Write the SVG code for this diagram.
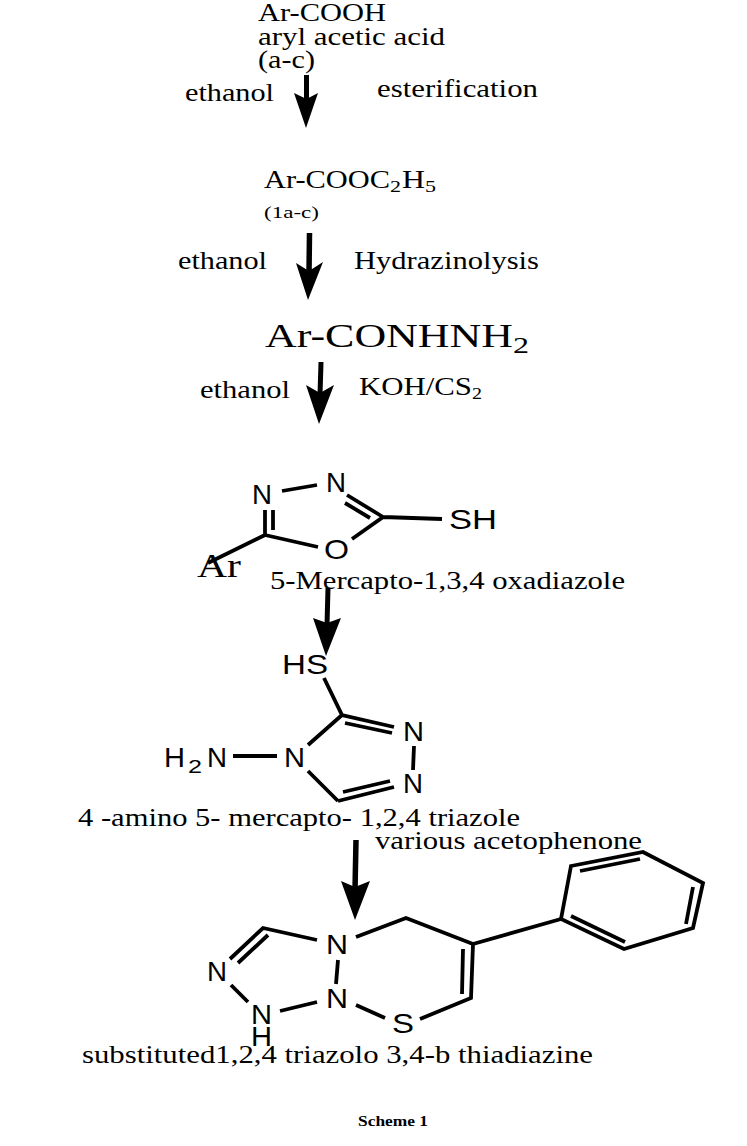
<svg xmlns="http://www.w3.org/2000/svg" width="747" height="1146" viewBox="0 0 747 1146">
<style>
.t{font-family:"Liberation Serif","Times New Roman",serif;fill:#000;font-size:25px}
.a{font-family:"Liberation Sans",Arial,sans-serif;fill:#000;font-size:28px}
.b{stroke:#000;stroke-width:3.800;fill:none;stroke-linecap:butt;stroke-linejoin:miter}
.s{stroke:#000;fill:none}
.h{fill:#000;stroke:none}
</style>
<rect width="747" height="1146" fill="#fff"/>
<g id="connectors">
<path class="s" stroke-width="5" d="M306.500 75L306.500 102"/><path class="h" d="M294 93L306.500 99L318 93L306 128Z"/>
<path class="s" stroke-width="5.500" d="M309.500 233L309 274"/><path class="h" d="M296 263L309 271L323 262L308 300Z"/>
<path class="s" stroke-width="5" d="M321 362L320 395"/><path class="h" d="M306 385L320 393L334 385L319 424Z"/>
<path class="s" stroke-width="5" d="M328 588L327 625"/><path class="h" d="M313 618L327 623L341 618L326 656Z"/>
<path class="s" stroke-width="5.500" d="M356 840L355 890"/><path class="h" d="M341 881L355 887L370 881L355 920Z"/>
</g>
<g id="acid">
<text class="t" x="258" y="21" textLength="128" lengthAdjust="spacingAndGlyphs">Ar-COOH</text>
<text class="t" x="258" y="45" textLength="187" lengthAdjust="spacingAndGlyphs">aryl acetic acid</text>
<text class="t" x="258" y="68" textLength="57" lengthAdjust="spacingAndGlyphs">(a-c)</text>
</g>
<g id="step1-labels">
<text class="t" x="185" y="101" textLength="89" lengthAdjust="spacingAndGlyphs">ethanol</text>
<text class="t" x="377" y="97" textLength="161" lengthAdjust="spacingAndGlyphs">esterification</text>
</g>
<g id="ester">
<text class="t" x="264" y="188" textLength="126" lengthAdjust="spacingAndGlyphs">Ar-COOC</text>
<text class="t" x="390" y="192" style="font-size:16px" textLength="11" lengthAdjust="spacingAndGlyphs">2</text>
<text class="t" x="402" y="188" textLength="23" lengthAdjust="spacingAndGlyphs">H</text>
<text class="t" x="425" y="192" style="font-size:16px" textLength="11" lengthAdjust="spacingAndGlyphs">5</text>
<text class="t" x="264" y="218" style="font-size:16px" textLength="55" lengthAdjust="spacingAndGlyphs">(1a-c)</text>
</g>
<g id="step2-labels">
<text class="t" x="178" y="269" textLength="89" lengthAdjust="spacingAndGlyphs">ethanol</text>
<text class="t" x="354" y="269" textLength="185" lengthAdjust="spacingAndGlyphs">Hydrazinolysis</text>
</g>
<g id="hydrazide">
<text class="t" x="265" y="347" style="font-size:34px" textLength="248" lengthAdjust="spacingAndGlyphs">Ar-CONHNH</text>
<text class="t" x="513" y="353" style="font-size:23px" textLength="16" lengthAdjust="spacingAndGlyphs">2</text>
</g>
<g id="step3-labels">
<text class="t" x="200" y="398" textLength="90" lengthAdjust="spacingAndGlyphs">ethanol</text>
<text class="t" x="359" y="395" textLength="113" lengthAdjust="spacingAndGlyphs">KOH/CS</text>
<text class="t" x="472" y="399" style="font-size:16px" textLength="10" lengthAdjust="spacingAndGlyphs">2</text>
</g>
<g id="oxadiazole">
<path class="b" d="M282 491L317 485M265 535L265 510M273 530L273 510M265 535L318 547M352 539L383 517L347 495M345 503L370 518M383 517L442 519M265 535L208 563"/>
<text class="a" x="252" y="504" textLength="20" lengthAdjust="spacingAndGlyphs">N</text>
<text class="a" x="326" y="492" textLength="20" lengthAdjust="spacingAndGlyphs">N</text>
<text class="a" x="324" y="559" textLength="25" lengthAdjust="spacingAndGlyphs">O</text>
<text class="a" x="449" y="529" textLength="48" lengthAdjust="spacingAndGlyphs">SH</text>
<text class="t" x="197" y="577" style="font-size:34px" textLength="44" lengthAdjust="spacingAndGlyphs">Ar</text>
<text class="t" x="270" y="589" textLength="355" lengthAdjust="spacingAndGlyphs">5-Mercapto-1,3,4 oxadiazole</text>
</g>
<g id="triazole">
<path class="b" d="M324 678L342 715L394 727M345 723L392 733M414 746L413 770M338 801L394 787M343 792L390 781M338 801L308 771M308 745L342 715M233 756L277 756"/>
<text class="a" x="282" y="674" textLength="46" lengthAdjust="spacingAndGlyphs">HS</text>
<text class="a" x="403" y="741" textLength="21" lengthAdjust="spacingAndGlyphs">N</text>
<text class="a" x="403" y="793" textLength="20" lengthAdjust="spacingAndGlyphs">N</text>
<text class="a" x="284" y="767" textLength="21" lengthAdjust="spacingAndGlyphs">N</text>
<text class="a" x="164" y="767" textLength="21" lengthAdjust="spacingAndGlyphs">H</text>
<text class="a" x="188" y="773" style="font-size:19px" textLength="14" lengthAdjust="spacingAndGlyphs">2</text>
<text class="a" x="207" y="767" textLength="20" lengthAdjust="spacingAndGlyphs">N</text>
<text class="t" x="78" y="826" textLength="442" lengthAdjust="spacingAndGlyphs">4 -amino 5- mercapto- 1,2,4 triazole</text>
</g>
<g id="step5-label">
<text class="t" x="375" y="849" textLength="267" lengthAdjust="spacingAndGlyphs">various acetophenone</text>
</g>
<g id="thiadiazine">
<path class="b" d="M230 959L263 928L317 940M238 963L268 935M356 937L406 918L473 944L471 998L420 1019M463 949L462 994M356 1005L385 1018M280 1011L317 1002M338 960L336 984M231 985L248 1002M473 944L561 919"/>
<path class="b" d="M561 919L571 866L643 852L703 883L693 928L624 949ZM580 871L640 859M693 887L686 924M571 916L625 942"/>
<text class="a" x="326" y="954" textLength="22" lengthAdjust="spacingAndGlyphs">N</text>
<text class="a" x="326" y="1008" textLength="22" lengthAdjust="spacingAndGlyphs">N</text>
<text class="a" x="207" y="981" textLength="20" lengthAdjust="spacingAndGlyphs">N</text>
<text class="a" x="251" y="1024" textLength="21" lengthAdjust="spacingAndGlyphs">N</text>
<text class="a" x="251" y="1046" textLength="21" lengthAdjust="spacingAndGlyphs">H</text>
<text class="a" x="392" y="1033" textLength="22" lengthAdjust="spacingAndGlyphs">S</text>
<text class="t" x="82" y="1063" textLength="511" lengthAdjust="spacingAndGlyphs">substituted1,2,4 triazolo 3,4-b thiadiazine</text>
</g>
<g id="caption">
<text class="t" x="358" y="1126" style="font-size:15px;font-weight:bold" textLength="70" lengthAdjust="spacingAndGlyphs">Scheme 1</text>
</g>
</svg>
